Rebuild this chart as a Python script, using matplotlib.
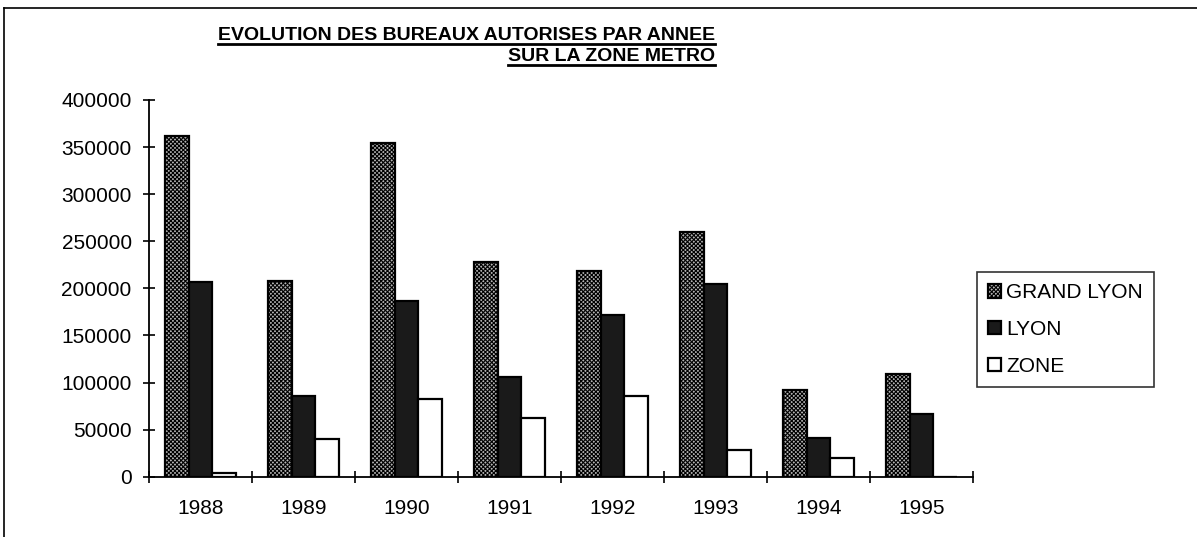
import numpy as np
import matplotlib
matplotlib.use("Agg")
import matplotlib.pyplot as plt
from matplotlib.lines import Line2D

plt.rcParams["font.family"] = ["Liberation Sans", "DejaVu Sans"]
plt.rcParams["hatch.linewidth"] = 0.8

years = ["1988", "1989", "1990", "1991", "1992", "1993", "1994", "1995"]
grand_lyon = [362000, 208000, 354000, 228000, 218000, 260000, 92000, 109000]
lyon = [207000, 86000, 187000, 106000, 172000, 205000, 41000, 67000]
zone = [4000, 40000, 83000, 62000, 86000, 28000, 20000, 0]
labels = ["GRAND LYON", "LYON", "ZONE"]
yticks = [0, 50000, 100000, 150000, 200000, 250000, 300000, 350000, 400000]

fig = plt.figure(figsize=(11.97, 5.37), dpi=100)
ax = fig.add_axes([149 / 1197, 1 - 476.7 / 537, (973 - 149) / 1197, (476.7 - 100) / 537])

x = np.arange(len(years))
w = 0.233
b1 = ax.bar(x - w, grand_lyon, w, facecolor="#b4b4b4", edgecolor="black",
            linewidth=1.6, hatch="xxxxxxxx", label=labels[0])
b2 = ax.bar(x, lyon, w, facecolor="#1a1a1a", edgecolor="black",
            linewidth=1.6, label=labels[1])
b3 = ax.bar(x + w, zone, w, facecolor="white", edgecolor="black",
            linewidth=1.6, label=labels[2])

ax.set_xlim(-0.5, len(years) - 0.5)
ax.set_ylim(0, 400000)
ax.set_yticks(yticks)
ax.set_yticklabels([str(v) for v in yticks], fontsize=15)
ax.set_xticks(np.arange(len(years) + 1) - 0.5)
ax.set_xticklabels([])
ax.set_xticks(x, minor=True)
ax.set_xticklabels(years, minor=True, fontsize=15)
ax.tick_params(axis="x", which="minor", length=0, pad=16)
ax.tick_params(axis="x", which="major", direction="inout", length=9, width=1.2)
ax.tick_params(axis="y", direction="inout", length=9, width=1.2, pad=8)
for s in ["top", "right"]:
    ax.spines[s].set_visible(False)
for s in ["left", "bottom"]:
    ax.spines[s].set_linewidth(1.3)

leg = fig.legend(handles=[b1, b2, b3], labels=labels, loc="upper left",
                 bbox_to_anchor=(977 / 1197, 1 - 272 / 537), fontsize=15,
                 frameon=True, fancybox=False, edgecolor="black",
                 handlelength=0.6, handleheight=0.6, handletextpad=0.25,
                 labelspacing=0.85, borderpad=0.55, borderaxespad=0)
leg.get_frame().set_linewidth(1.2)

t1 = fig.text(715 / 1197, 1 - 40 / 537, "EVOLUTION DES BUREAUX AUTORISES PAR ANNEE",
              ha="right", va="baseline", fontsize=14, fontweight="bold")
t2 = fig.text(715 / 1197, 1 - 61 / 537, "SUR LA ZONE METRO",
              ha="right", va="baseline", fontsize=14, fontweight="bold")

# underline the title lines
fig.canvas.draw()
r = fig.canvas.get_renderer()
for t, yb in [(t1, 40), (t2, 61)]:
    bb = t.get_window_extent(r)
    yy = 1 - (yb + 4) / 537
    fig.add_artist(Line2D([bb.x0 / 1197, bb.x1 / 1197], [yy, yy],
                          transform=fig.transFigure, color="black", linewidth=2))

# page border (top and left)
fig.add_artist(Line2D([4 / 1197, 1], [1 - 8 / 537, 1 - 8 / 537],
                      transform=fig.transFigure, color="black", linewidth=1.2))
fig.add_artist(Line2D([4 / 1197, 4 / 1197], [0, 1 - 8 / 537],
                      transform=fig.transFigure, color="black", linewidth=1.2))

fig.savefig("out.png", dpi=100)
